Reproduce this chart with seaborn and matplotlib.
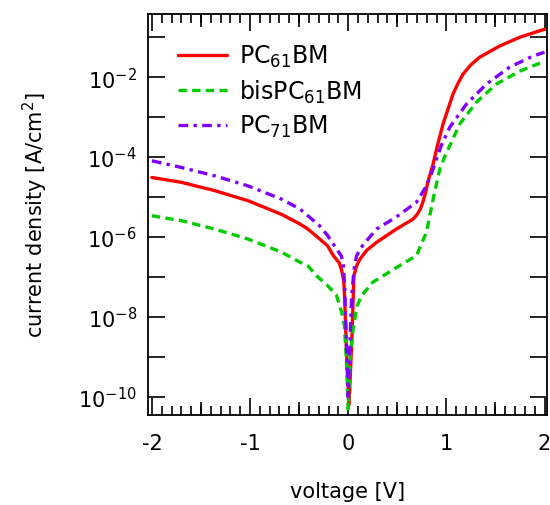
import math
import matplotlib
matplotlib.use('Agg')
import matplotlib.pyplot as plt
import seaborn as sns
from matplotlib.ticker import MultipleLocator, FixedLocator, FuncFormatter, NullLocator

sns.set_style("ticks")
plt.rcParams['font.family'] = ['DejaVu Sans']
plt.rcParams['axes.unicode_minus'] = False
plt.rcParams['mathtext.fontset'] = 'dejavusans'
plt.rcParams['text.color'] = 'black'
plt.rcParams['axes.labelcolor'] = 'black'

# PC61BM (solid red)
pc61_v = [-2.0, -1.70, -1.36, -1.02, -0.68, -0.49, -0.41, -0.29, -0.21, -0.15, -0.09,
          -0.065, -0.045, -0.035, -0.02, 0.008, 0.035, 0.05, 0.058, 0.085, 0.12, 0.19,
          0.29, 0.49, 0.66, 0.70, 0.735, 0.76, 0.79, 0.81, 0.865, 0.90, 0.966, 1.068,
          1.12, 1.17, 1.25, 1.34, 1.54, 1.75, 2.0]
pc61_j = [3.09e-5, 2.34e-5, 1.45e-5, 8.1e-6, 3.7e-6, 2.11e-6, 1.58e-6, 8.9e-7, 6.0e-7,
          3.4e-7, 2.24e-7, 1.41e-7, 7.9e-8, 2.5e-8, 2.0e-9, 6.3e-11, 2.0e-9, 2.5e-8,
          1.07e-7, 1.9e-7, 2.8e-7, 4.7e-7, 7.4e-7, 1.58e-6, 2.8e-6, 3.6e-6, 5.0e-6,
          7.4e-6, 1.32e-5, 2.34e-5, 6.7e-5, 1.58e-4, 6.7e-4, 3.8e-3, 7.1e-3, 1.19e-2,
          2.04e-2, 3.16e-2, 5.96e-2, 0.1, 0.158]

# bisPC61BM (dashed green)
bis_v = [-2.0, -1.70, -1.36, -1.02, -0.68, -0.49, -0.41, -0.322, -0.207, -0.12, -0.07,
         -0.04, -0.02, 0.0, 0.02, 0.05, 0.09, 0.136, 0.25, 0.356, 0.5, 0.695, 0.797,
         0.865, 0.933, 0.99, 1.136, 1.306, 1.51, 1.747, 2.0]
bis_j = [3.4e-6, 2.57e-6, 1.58e-6, 8.9e-7, 4.2e-7, 2.34e-7, 1.9e-7, 1.07e-7, 6.0e-8,
         3.5e-8, 1.41e-8, 6.3e-9, 1.0e-9, 5.0e-11, 1.0e-9, 5.0e-9, 1.86e-8, 3.4e-8,
         7.4e-8, 1.07e-7, 1.78e-7, 3.4e-7, 1.32e-6, 8.9e-6, 5.0e-5, 1.12e-4, 6.7e-4,
         2.37e-3, 6.7e-3, 1.41e-2, 2.5e-2]

# PC71BM (dash-dot purple)
pc71_v = [-2.0, -1.70, -1.36, -1.02, -0.68, -0.49, -0.41, -0.29, -0.207, -0.118, -0.071,
          -0.051, -0.035, -0.02, 0.0, 0.02, 0.035, 0.06, 0.085, 0.15, 0.289, 0.492,
          0.695, 0.797, 0.85, 0.899, 0.95, 1.035, 1.204, 1.408, 1.645, 1.88, 2.0]
pc71_j = [8.1e-5, 5.5e-5, 3.4e-5, 1.9e-5, 8.9e-6, 5.0e-6, 3.4e-6, 1.9e-6, 1.07e-6,
          5.0e-7, 3.4e-7, 2.34e-7, 5.0e-8, 3.2e-9, 1.0e-10, 3.2e-9, 3.4e-8, 1.58e-7,
          3.4e-7, 6.3e-7, 1.58e-6, 3.2e-6, 7.4e-6, 1.9e-5, 4.0e-5, 8.9e-5, 2.0e-4,
          5.6e-4, 2.11e-3, 6.7e-3, 1.78e-2, 3.35e-2, 4.2e-2]

fig = plt.figure(figsize=(5.5, 5.06), dpi=100)
ax = fig.add_axes([0.269, 0.178, 0.7255, 0.792])

lw = 2.4
sns.lineplot(x=pc61_v, y=pc61_j, ax=ax, color='#ff0000', lw=lw, sort=False,
             estimator=None, label='PC$_{61}$BM')
sns.lineplot(x=bis_v, y=bis_j, ax=ax, color='#00cc00', lw=lw, sort=False,
             estimator=None, label='bisPC$_{61}$BM', linestyle=(0, (2.5, 1.6)))
sns.lineplot(x=pc71_v, y=pc71_j, ax=ax, color='#7f00ff', lw=lw, sort=False,
             estimator=None, label='PC$_{71}$BM', linestyle=(0, (2.9, 1.6, 1.0, 1.6)))

ax.set_yscale('log')
ax.set_xlim(-2.04, 2.025)
ax.set_ylim(10 ** -10.45, 10 ** -0.425)

# x ticks: long at integers, short every 0.1, medium at halves
ax.xaxis.set_major_locator(MultipleLocator(1))
ax.xaxis.set_minor_locator(MultipleLocator(0.1))
ax.yaxis.set_major_locator(FixedLocator([10.0 ** e for e in range(-10, 0)]))
ax.yaxis.set_minor_locator(NullLocator())


def ylab(val, pos):
    e = int(round(math.log10(val)))
    return '10$^{%d}$' % e if e % 2 == 0 else ''


ax.yaxis.set_major_formatter(FuncFormatter(ylab))
ax.xaxis.set_major_formatter(FuncFormatter(lambda v, p: '%d' % round(v)))

ax.tick_params(which='both', direction='in', top=True, right=True, width=1.2,
               labelsize=15, color='black', labelcolor='black')
ax.tick_params(axis='x', pad=13)
ax.tick_params(axis='y', pad=8)
ax.tick_params(which='major', length=12.5)
ax.tick_params(which='minor', length=6.5)

for loc in ['bottom', 'top']:
    sec = ax.secondary_xaxis(loc)
    sec.set_xticks([-1.5, -0.5, 0.5, 1.5])
    sec.tick_params(direction='in', length=9.5, width=1.2, labelbottom=False,
                    labeltop=False, color='black')
    sec.xaxis.set_minor_locator(NullLocator())
    for s in sec.spines.values():
        s.set_visible(False)

for s in ax.spines.values():
    s.set_linewidth(1.3)
    s.set_color('black')

ax.set_xlabel('voltage [V]', fontsize=15, labelpad=20)
ax.set_ylabel('current density [A/cm$^2$]', fontsize=15, labelpad=20)

ax.legend(loc='upper left', frameon=False, fontsize=17, handlelength=2.1,
          handletextpad=0.5, labelspacing=0.35, borderaxespad=0.4,
          bbox_to_anchor=(0.027, 0.975))

fig.savefig('out.png', dpi=100)
